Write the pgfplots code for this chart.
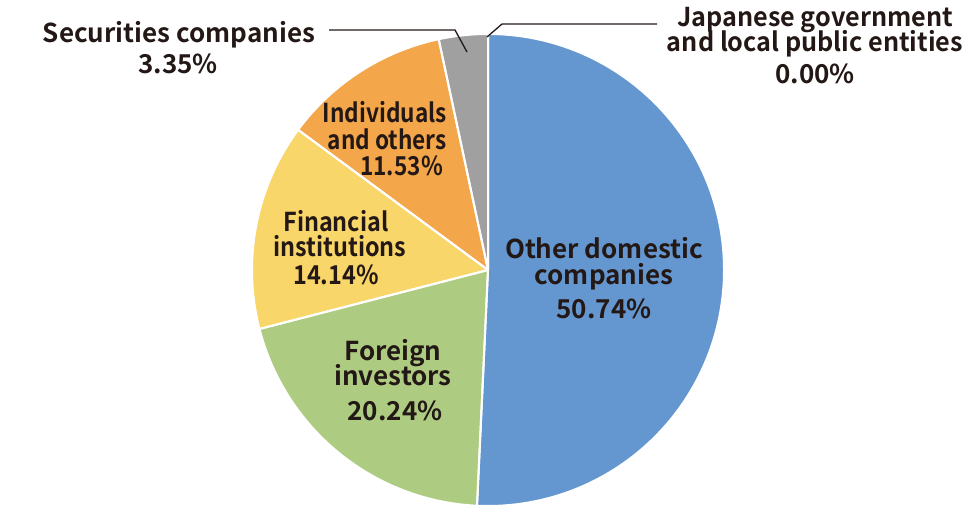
\documentclass[border=0pt]{standalone}
\usepackage{pgfplots}
\pgfplotsset{compat=1.18}
\usepackage{graphicx}
\usepackage{fontspec}
\newfontfamily\lab{Noto Sans CJK JP Bold}
\definecolor{cblue}{RGB}{100,151,207}
\definecolor{cgreen}{RGB}{173,204,130}
\definecolor{cyellow}{RGB}{249,214,106}
\definecolor{corange}{RGB}{244,166,74}
\definecolor{cgray}{RGB}{160,160,160}
\definecolor{ctext}{RGB}{35,24,21}
\tikzset{lbl/.style={text=ctext, font=\lab\fontsize{26}{30}\selectfont, inner sep=0pt, anchor=base}}
% shares (%), clockwise from 12 o'clock
\def\vA{50.74}% Other domestic companies
\def\vB{20.24}% Foreign investors
\def\vC{14.14}% Financial institutions
\def\vD{11.53}% Individuals and others
\def\vE{3.35}%  Securities companies
\def\vF{0.00}%  Japanese government and local public entities
\pgfmathsetmacro\aA{90}
\pgfmathsetmacro\aB{\aA-3.6*\vA}
\pgfmathsetmacro\aC{\aB-3.6*\vB}
\pgfmathsetmacro\aD{\aC-3.6*\vC}
\pgfmathsetmacro\aE{\aD-3.6*\vD}
\pgfmathsetmacro\aF{\aE-3.6*\vE}
\pgfmathsetmacro\aG{\aF-3.6*\vF}
\newcommand\pieslice[3]{%
  \fill[#1] (axis cs:488,239) -- ++(#2:236pt) arc[start angle=#2, end angle=#3, radius=236pt] -- cycle;}
\newcommand\pieline[2]{%
  \draw[white, line width=2pt, line join=round] (axis cs:488,239) -- ++(#1:236pt) arc[start angle=#1, end angle=#2, radius=236pt] -- cycle;}
\begin{document}
\begin{tikzpicture}
\begin{axis}[x=1pt, y=1pt, xmin=0, xmax=976, ymin=0, ymax=509,
  hide axis, clip=false]
\path (axis cs:0,0) rectangle (axis cs:976,509);
\pieslice{cblue}{\aA}{\aB}
\pieslice{cgreen}{\aB}{\aC}
\pieslice{cyellow}{\aC}{\aD}
\pieslice{corange}{\aD}{\aE}
\pieslice{cgray}{\aE}{\aF}
\pieline{\aA}{\aB}
\pieline{\aB}{\aC}
\pieline{\aC}{\aD}
\pieline{\aD}{\aE}
\pieline{\aE}{\aF}
% leader lines
\draw[ctext, line width=1.3pt] (axis cs:329,479) -- (axis cs:455,479) -- (axis cs:467,457);
\draw[ctext, line width=1.3pt] (axis cs:487,472) -- (axis cs:502,485) -- (axis cs:657,485);
% labels
\node[lbl] at (axis cs:604,250) {Other domestic};
\node[lbl] at (axis cs:604,224) {companies};
\node[lbl] at (axis cs:604,190) {50.74\%};
\node[lbl] at (axis cs:393,149) {Foreign};
\node[lbl] at (axis cs:393,124) {investors};
\node[lbl] at (axis cs:395,89) {20.24\%};
\node[lbl] at (axis cs:336,277) {\scalebox{0.9}[1]{Financial}};
\node[lbl] at (axis cs:340,252) {\scalebox{0.9}[1]{institutions}};
\node[lbl] at (axis cs:336,224) {\scalebox{0.9}[1]{14.14\%}};
\node[lbl, anchor=base east] at (axis cs:447,386) {\scalebox{0.87}[1]{Individuals}};
\node[lbl, anchor=base east] at (axis cs:447,359) {\scalebox{0.87}[1]{and others}};
\node[lbl, anchor=base east] at (axis cs:443,333) {\scalebox{0.87}[1]{11.53\%}};
\node[lbl] at (axis cs:179,466) {Securities companies};
\node[lbl] at (axis cs:178,435) {3.35\%};
\node[lbl] at (axis cs:815,482) {\scalebox{0.97}[1]{Japanese government}};
\node[lbl] at (axis cs:815,457) {\scalebox{0.97}[1]{and local public entities}};
\node[lbl] at (axis cs:815,425) {0.00\%};
\end{axis}
\end{tikzpicture}
\end{document}
